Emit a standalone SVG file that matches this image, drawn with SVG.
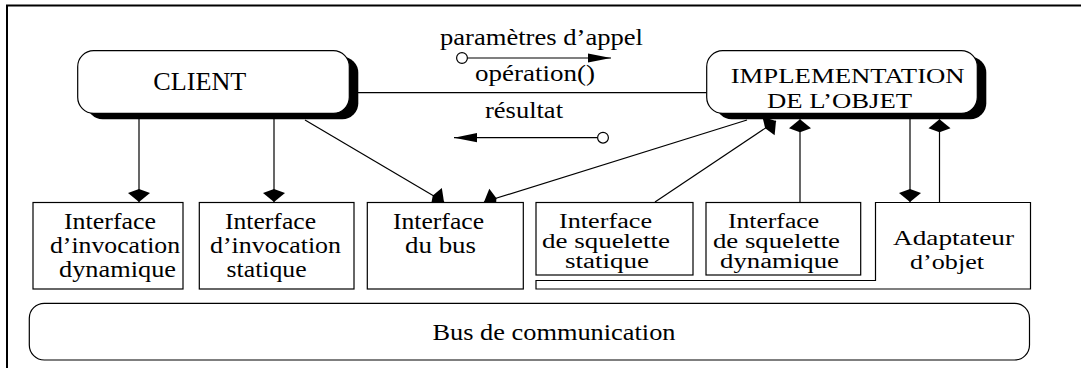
<svg xmlns="http://www.w3.org/2000/svg" width="1081" height="368" viewBox="0 0 1081 368">
<defs>
<style>
text{font-family:'Liberation Serif','DejaVu Serif',serif;fill:#000}
.box{fill:#fff;stroke:#000;stroke-width:1.2}
.ln{fill:none;stroke:#000;stroke-width:1.2}
</style>
<marker id="kite" markerUnits="userSpaceOnUse" orient="auto" refX="0" refY="0" markerWidth="30" markerHeight="30" overflow="visible"><path d="M0,0 L-9,-11 L-13,0 L-9,11 Z" fill="#000"/></marker>
<marker id="tri" markerUnits="userSpaceOnUse" orient="auto" refX="0" refY="0" markerWidth="30" markerHeight="30" overflow="visible"><path d="M0,0 L-23,-4.6 L-23,4.6 Z" fill="#000"/></marker>
</defs>
<rect width="1081" height="368" fill="#fff"/>
<path d="M7,380 V5.5 H1095" fill="none" stroke="#000" stroke-width="2"/>

<g id="connectors">
<line class="ln" x1="358" y1="92.7" x2="707" y2="92.7"/>
<line class="ln" x1="139" y1="119" x2="139" y2="202" marker-end="url(#kite)"/>
<line class="ln" x1="274" y1="119" x2="274" y2="202" marker-end="url(#kite)"/>
<line class="ln" x1="305" y1="120" x2="444" y2="202" marker-end="url(#kite)"/>
<line class="ln" x1="747" y1="120" x2="484" y2="202" marker-end="url(#kite)"/>
<line class="ln" x1="655" y1="202" x2="776" y2="121" marker-end="url(#kite)"/>
<line class="ln" x1="800" y1="202" x2="800" y2="119.3" marker-end="url(#kite)"/>
<line class="ln" x1="910" y1="119" x2="910" y2="202" marker-end="url(#kite)"/>
<line class="ln" x1="939.5" y1="202" x2="939.5" y2="119.3" marker-end="url(#kite)"/>
<line class="ln" x1="467.5" y1="58" x2="611" y2="58" marker-end="url(#tri)"/>
<circle cx="462" cy="58" r="5.4" fill="#fff" stroke="#000" stroke-width="1.2"/>
<line class="ln" x1="597.5" y1="137.7" x2="454" y2="137.7" marker-end="url(#tri)"/>
<circle cx="603" cy="137.7" r="5.4" fill="#fff" stroke="#000" stroke-width="1.2"/>
<text font-family="Liberation Serif, serif" x="440" y="45" font-size="23" textLength="203" lengthAdjust="spacingAndGlyphs">paramètres d’appel</text>
<text font-family="Liberation Serif, serif" x="475" y="81" font-size="23" textLength="120" lengthAdjust="spacingAndGlyphs">opération()</text>
<text font-family="Liberation Serif, serif" x="485" y="118" font-size="23" textLength="78" lengthAdjust="spacingAndGlyphs">résultat</text>
</g>

<g id="client">
<rect x="86.7" y="56.7" width="271.6" height="62.6" rx="16" fill="#000"/>
<rect class="box" x="77.7" y="50.7" width="271.6" height="62.6" rx="16"/>
<text font-family="Liberation Serif, serif" x="153.3" y="90" font-size="25" textLength="93" lengthAdjust="spacingAndGlyphs">CLIENT</text>
</g>

<g id="implementation">
<rect x="715.7" y="56.7" width="270.6" height="62.6" rx="16" fill="#000"/>
<rect class="box" x="706.7" y="50.7" width="270.6" height="62.6" rx="16"/>
<text font-family="Liberation Serif, serif" x="730.7" y="83.3" font-size="22" textLength="234" lengthAdjust="spacingAndGlyphs">IMPLEMENTATION</text>
<text font-family="Liberation Serif, serif" x="767" y="108.3" font-size="22" textLength="145" lengthAdjust="spacingAndGlyphs">DE L’OBJET</text>
</g>

<g id="invocation-dynamique" font-family="Liberation Serif, serif" font-size="23">
<rect class="box" x="33" y="202.5" width="150" height="86.5"/>
<text x="64" y="229.3" textLength="92" lengthAdjust="spacingAndGlyphs">Interface</text>
<text x="50" y="253.3" textLength="130" lengthAdjust="spacingAndGlyphs">d’invocation</text>
<text x="59" y="277.3" textLength="117" lengthAdjust="spacingAndGlyphs">dynamique</text>
</g>

<g id="invocation-statique" font-family="Liberation Serif, serif" font-size="23">
<rect class="box" x="199.3" y="202.5" width="154.7" height="86.5"/>
<text x="225" y="229.3" textLength="91" lengthAdjust="spacingAndGlyphs">Interface</text>
<text x="210" y="253.3" textLength="131" lengthAdjust="spacingAndGlyphs">d’invocation</text>
<text x="226.6" y="277.3" textLength="80" lengthAdjust="spacingAndGlyphs">statique</text>
</g>

<g id="interface-bus" font-family="Liberation Serif, serif" font-size="23">
<rect class="box" x="367.3" y="202.5" width="156" height="86.5"/>
<text x="393" y="229.3" textLength="91" lengthAdjust="spacingAndGlyphs">Interface</text>
<text x="405" y="253.3" textLength="71" lengthAdjust="spacingAndGlyphs">du bus</text>
</g>

<g id="squelette-statique" font-family="Liberation Serif, serif" font-size="20">
<rect class="box" x="536" y="202.5" width="157" height="72.5"/>
<text x="559" y="228.3" textLength="93" lengthAdjust="spacingAndGlyphs">Interface</text>
<text x="542" y="248.3" textLength="128" lengthAdjust="spacingAndGlyphs">de squelette</text>
<text x="565" y="268.3" textLength="84" lengthAdjust="spacingAndGlyphs">statique</text>
</g>

<g id="squelette-dynamique" font-family="Liberation Serif, serif" font-size="20">
<rect class="box" x="706" y="202.5" width="154.7" height="72.5"/>
<text x="728" y="228.3" textLength="91" lengthAdjust="spacingAndGlyphs">Interface</text>
<text x="713" y="248.3" textLength="127" lengthAdjust="spacingAndGlyphs">de squelette</text>
<text x="720" y="268.3" textLength="119" lengthAdjust="spacingAndGlyphs">dynamique</text>
</g>

<g id="adaptateur" font-family="Liberation Serif, serif" font-size="21">
<path class="box" d="M875.5,202.5 H1030.5 V289 H536 V280.5 H875.5 Z"/>
<text x="893" y="244.5" textLength="121" lengthAdjust="spacingAndGlyphs">Adaptateur</text>
<text x="910" y="268.5" textLength="74" lengthAdjust="spacingAndGlyphs">d’objet</text>
</g>

<g id="bus" font-family="Liberation Serif, serif" font-size="23">
<rect class="box" x="29.3" y="303.3" width="1000.2" height="56.7" rx="15"/>
<text x="432.5" y="340" textLength="243" lengthAdjust="spacingAndGlyphs">Bus de communication</text>
</g>
</svg>
